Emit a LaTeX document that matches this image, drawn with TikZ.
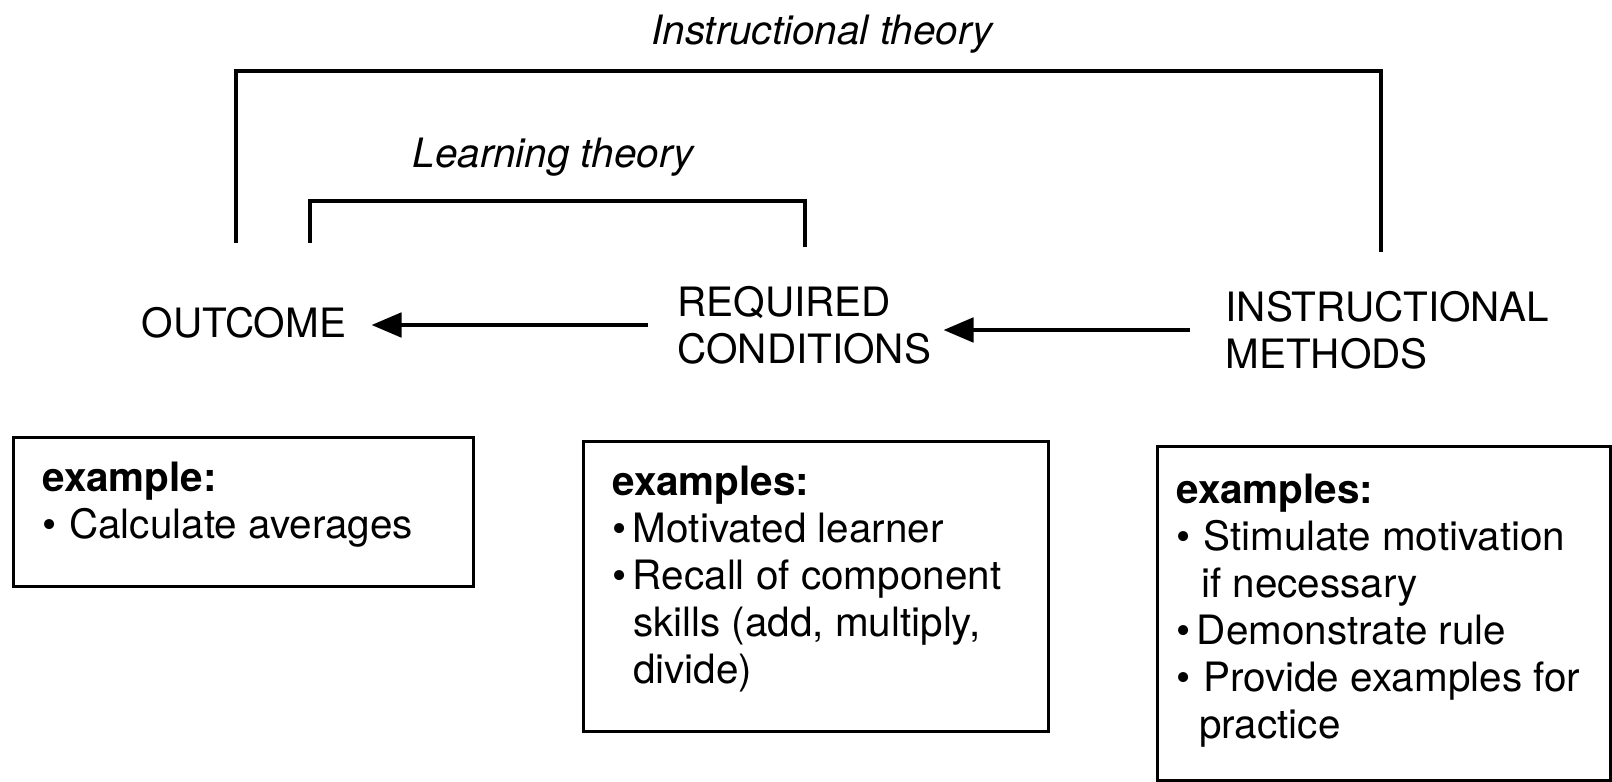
\documentclass[tikz,border=0pt]{standalone}
\usepackage{fontspec}
\setmainfont{TeX Gyre Heros}
\usetikzlibrary{arrows.meta}

\newcommand{\bul}[1]{\makebox[#1][l]{\textbullet}}

\begin{document}
\begin{tikzpicture}[x=0.01cm,y=-0.01cm,line width=0.9pt,
	font=\fontsize{11.5pt}{13.4pt}\selectfont,
	stage/.style={align=left,inner sep=0pt,anchor=west},
	exbox/.style={draw,inner sep=0pt,anchor=north west},
	extext/.style={align=left,inner sep=0pt,anchor=north west},
	flow/.style={-{Triangle[length=8.5pt,width=7pt]}}]
					\useasboundingbox (0,0) rectangle (1612,782);
					
					% stages
					\node[stage] (outcome) at (140,323) {OUTCOME};
					\node[stage] (cond) at (676,325) {REQUIRED\\CONDITIONS};
					\node[stage] (method) at (1224,330) {INSTRUCTIONAL\\METHODS};
					
					\draw[flow] ([xshift=-0.28cm]cond.west) -- ([xshift=0.24cm]cond.west -| outcome.east);
					\draw[flow] ([xshift=-0.34cm]method.west) -- ([xshift=0.11cm]method.west -| cond.east);
					
					% theory brackets
					\coordinate (instrL) at (236,243);
					\coordinate (instrR) at (1381,252);
					\coordinate (learnL) at (310,243);
					\coordinate (learnR) at (805,247);
					\draw (instrL) -- ++(0,-172) -| (instrR);
					\draw (learnL) -- ++(0,-42) -| (learnR);
					\node[font=\fontsize{11.5pt}{13.4pt}\itshape] (instr) at (822,34) {Instructional theory};
					\node[font=\fontsize{11.5pt}{13.4pt}\itshape] (learn) at (553,157) {Learning theory};
					
					% example boxes
					\node[exbox,minimum width=4.6cm,minimum height=1.49cm] (box1) at (12,436) {};
					\node[extext] (text1) at ([xshift=0.29cm,yshift=-0.24cm]box1.north west)
						{\textbf{example:}\\
						\bul{7.6pt}Calculate averages};
					
					\node[exbox,minimum width=4.65cm,minimum height=2.9cm] (box2) at (582,440) {};
					\node[extext] (text2) at ([xshift=0.29cm,yshift=-0.24cm]box2.north west)
						{\textbf{examples:}\\
						\bul{5.8pt}Motivated learner\\
						\bul{5.8pt}Recall of component\\
						\hspace*{5.8pt}skills (add, multiply,\\
						\hspace*{5.8pt}divide)};
					
					\node[exbox,minimum width=4.53cm,minimum height=3.34cm] (box3) at (1156,445) {};
					\node[extext] (text3) at ([xshift=0.19cm,yshift=-0.27cm]box3.north west)
						{\textbf{examples:}\\
						\bul{7.6pt}Stimulate motivation\\
						\hspace*{7pt}if necessary\\
						\bul{5.8pt}Demonstrate rule\\
						\bul{7.6pt}Provide examples for\\
						\hspace*{6.4pt}practice};
					
				\end{tikzpicture}
\end{document}
